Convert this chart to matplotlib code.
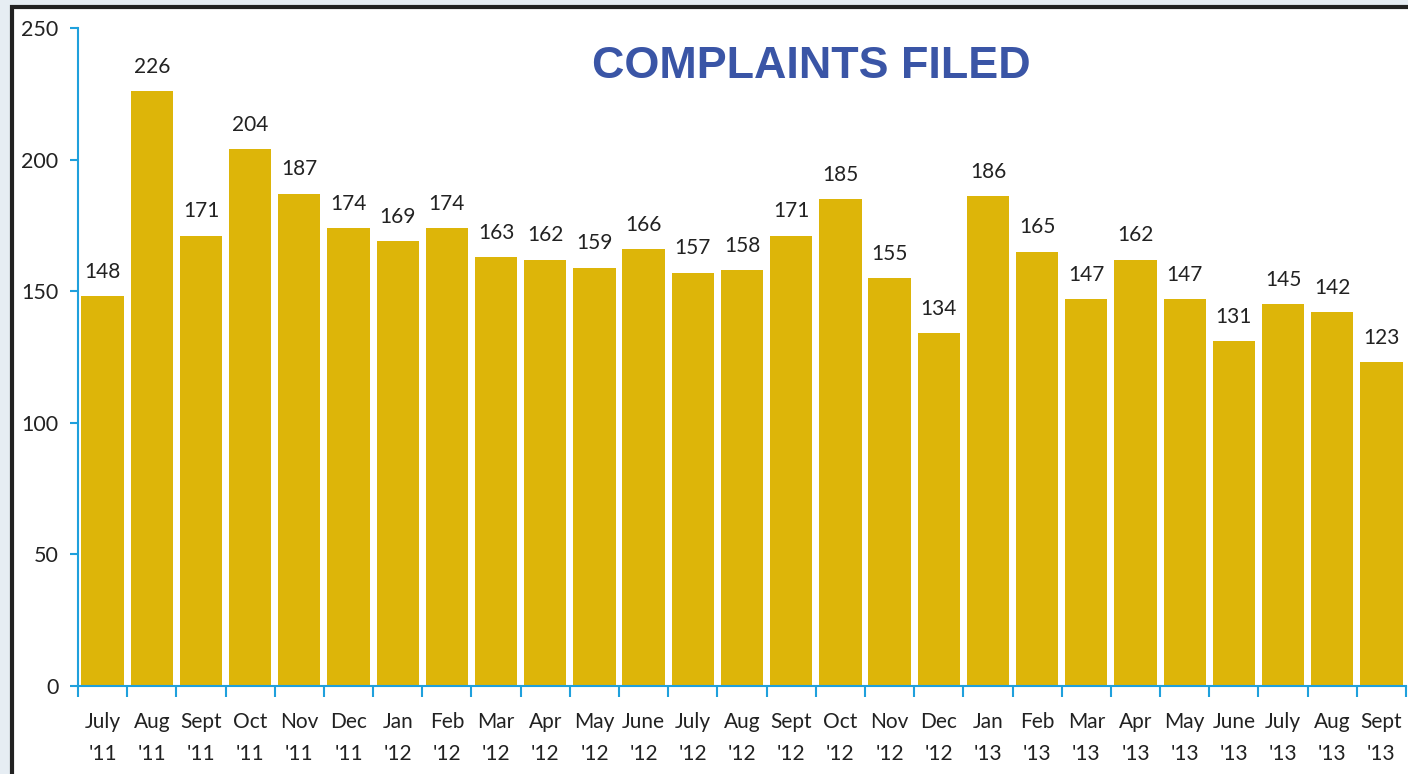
import matplotlib.pyplot as plt
from matplotlib.patches import Rectangle

months = ["July", "Aug", "Sept", "Oct", "Nov", "Dec", "Jan", "Feb", "Mar", "Apr", "May", "June",
          "July", "Aug", "Sept", "Oct", "Nov", "Dec", "Jan", "Feb", "Mar", "Apr", "May", "June",
          "July", "Aug", "Sept"]
years = ["'11"] * 6 + ["'12"] * 12 + ["'13"] * 9
complaints = [148, 226, 171, 204, 187, 174, 169, 174, 163, 162, 159, 166,
              157, 158, 171, 185, 155, 134, 186, 165, 147, 162, 147, 131,
              145, 142, 123]

labels = [f"{m}\n{y}" for m, y in zip(months, years)]
font = ["Lato", "DejaVu Sans"]
axis_blue = "#1fa0dc"
W, H = 1408, 774

fig = plt.figure(figsize=(W / 100, H / 100), dpi=100)
fig.patch.set_facecolor("#e6edf3")
# white page with dark frame on the top and left
fig.add_artist(Rectangle((12 / W, -0.2), 1.2, 1.2 - 7 / H, transform=fig.transFigure,
                         facecolor="white", edgecolor="#222222", linewidth=3, zorder=0))

ax = fig.add_axes([78 / W, 1 - 686 / H, 1328 / W, (686 - 28) / H])
ax.set_facecolor("none")
x = range(len(complaints))
ax.bar(x, complaints, width=0.86, color="#ddb509", zorder=2)
for xi, v in zip(x, complaints):
    ax.text(xi, v + 5.5, str(v), ha="center", va="bottom", fontsize=15, family=font, color="#222222")

ax.set_xlim(-0.5, len(complaints) - 0.5)
ax.set_ylim(0, 250)
ax.set_yticks([0, 50, 100, 150, 200, 250])
ax.set_xticks([i - 0.5 for i in range(len(complaints) + 1)], minor=False)
ax.set_xticklabels([])
ax.set_xticks(list(x), minor=True)
ax.set_xticklabels(labels, minor=True, fontsize=15, family=font, color="#222222", linespacing=1.75)
ax.tick_params(axis="x", which="major", length=8, color=axis_blue, width=1.5, direction="out")
ax.tick_params(axis="x", which="minor", length=0, pad=19)
ax.tick_params(axis="y", length=6, color=axis_blue, width=1.5, labelsize=15.5, pad=8)
for t in ax.get_yticklabels():
    t.set_family(font)
    t.set_color("#222222")

for side in ["top", "right"]:
    ax.spines[side].set_visible(False)
for side in ["left", "bottom"]:
    ax.spines[side].set_color(axis_blue)
    ax.spines[side].set_linewidth(1.5)

fig.text(811 / W, 1 - 67 / H, "COMPLAINTS FILED", ha="center", va="center",
         fontsize=32.3, fontweight="bold", family=["Liberation Sans", "Arial", "DejaVu Sans"], color="#3a55a6")

fig.savefig("out.png", dpi=100)
